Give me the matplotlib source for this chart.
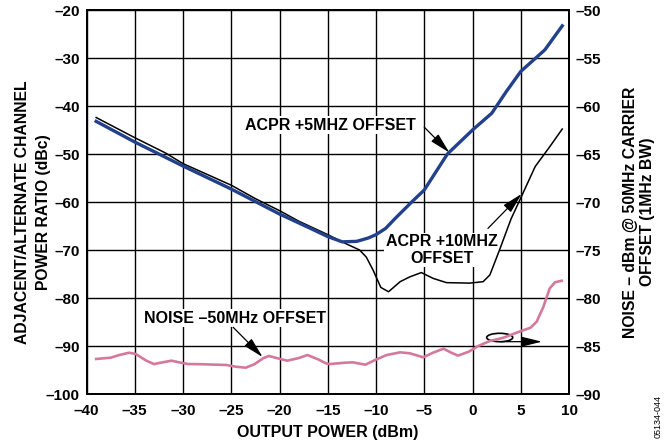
import numpy as np
import matplotlib
matplotlib.use("Agg")
import matplotlib.pyplot as plt
from matplotlib.patches import Ellipse

plt.rcParams['font.family'] = ['Liberation Sans', 'DejaVu Sans']
plt.rcParams['font.weight'] = 'bold'

# ACPR +5MHz offset (left axis, dBc)
acpr5_x = [-39, -35, -30, -25, -20, -17, -15, -13.5, -12, -10.8, -10, -9, -8, -6.3, -5,
           -2.6, 0, 2, 3.5, 5, 7.5, 9.3]
acpr5_y = [-43.2, -47.5, -52.5, -57.3, -62.5, -65.3, -67.2, -68.3, -68.2, -67.5, -66.8,
           -65.5, -63.4, -60, -57.5, -50, -45, -41.5, -37, -32.8, -28.3, -23.3]

# ACPR +10MHz offset (left axis, dBc)
acpr10_x = [-39, -35, -31.8, -30, -25, -22.5, -20, -18, -15, -13, -11.7, -11, -10.3, -9.5,
            -8.7, -7.5, -6.5, -5.3, -4.1, -2.7, -0.3, 1.1, 1.8, 2.8, 4, 4.9, 6.5, 8, 9.3]
acpr10_y = [-42.4, -46.6, -49.8, -52, -56.5, -59.3, -61.8, -64, -66.8, -68.8, -70, -71.5,
            -74.2, -77.8, -78.7, -76.6, -75.6, -74.7, -75.9, -76.8, -76.9, -76.6, -75.2,
            -70, -63.5, -59.6, -52.6, -48.5, -44.8]

# noise at -50MHz offset (right axis, dBm)
noise_x = [-39, -37.5, -36.6, -35.6, -34.9, -33.8, -33, -32.1, -31.2, -30.4, -29.5, -28,
           -25.5, -24.5, -23.5, -22.6, -21.7, -21.1, -20.2, -19.2, -18.1, -17.1, -16,
           -15.2, -14.8, -13.2, -12.4, -11.1, -10.1, -8.9, -7.5, -6.5, -5.1, -4.1, -3,
           -2.2, -1.5, -0.4, 0.6, 1.8, 3.2, 4.6, 6, 6.65, 7.35, 8, 8.55, 9.25]
noise_y = [-86.35, -86.22, -85.94, -85.7, -85.83, -86.53, -86.88, -86.7, -86.53, -86.7,
           -86.88, -86.9, -86.98, -87.16, -87.26, -86.9, -86.28, -86.04, -86.28, -86.53,
           -86.28, -85.94, -86.39, -86.8, -86.88, -86.74, -86.7, -86.95, -86.46, -85.94,
           -85.66, -85.76, -86.18, -85.7, -85.28, -85.7, -86.0, -85.6, -85.0, -84.48,
           -84.14, -83.6, -83.1, -82.47, -80.9, -79.0, -78.36, -78.2]

x_ticks = [-40, -35, -30, -25, -20, -15, -10, -5, 0, 5, 10]
left_ticks = [-100, -90, -80, -70, -60, -50, -40, -30, -20]
right_ticks = [-90, -85, -80, -75, -70, -65, -60, -55, -50]


def dash(v):
    return str(v).replace('-', '\u2013')


fig = plt.figure(figsize=(6.65, 4.46), dpi=100)
ax = fig.add_axes([86.5 / 665, 52 / 446, 482.5 / 665, 384 / 446])
ax2 = ax.twinx()

ax.plot(acpr10_x, acpr10_y, color='black', lw=1.1, zorder=3)
ax.plot(acpr5_x, acpr5_y, color='#22408c', lw=2.4, zorder=4, solid_joinstyle='round')
ax2.plot(noise_x, noise_y, color='#d4799c', lw=1.9, zorder=3, solid_joinstyle='round')

ax.set_xlim(-40, 10)
ax.set_ylim(-100, -20)
ax2.set_ylim(-90, -50)
ax.set_xticks(x_ticks)
ax.set_xticklabels([dash(v) for v in x_ticks])
ax.set_yticks(left_ticks)
ax.set_yticklabels([dash(v) for v in left_ticks])
ax2.set_yticks(right_ticks)
ax2.set_yticklabels([dash(v) for v in right_ticks])
ax.grid(True, color='black', lw=1.0)
ax.set_axisbelow(True)
for a in (ax, ax2):
    a.tick_params(length=0, labelsize=11)
    for s in a.spines.values():
        s.set_linewidth(1.3)
ax.tick_params(axis='y', pad=5)
ax.tick_params(axis='x', pad=7)
ax2.tick_params(axis='y', pad=5)

fig.text(33 / 665, 1 - 212 / 446, 'ADJACENT/ALTERNATE CHANNEL\nPOWER RATIO (dBc)',
         rotation=90, ha='center', va='center', fontsize=11.3, linespacing=1.45)
fig.text(639 / 665, 1 - 212 / 446, 'NOISE \u2013 dBm @ 50MHz CARRIER\nOFFSET (1MHz BW)',
         rotation=90, ha='center', va='center', fontsize=11.3, linespacing=1.2)
fig.text(328 / 665, 1 - 433 / 446, 'OUTPUT POWER (dBm)', ha='center', va='center',
         fontsize=11.5)
fig.text(658 / 665, 1 - 417 / 446, '05134-044', rotation=90, ha='center', va='center',
         fontsize=6.5, fontweight='normal')

# white boxes hide the grid behind labels but stay under the curves
box = dict(facecolor='white', edgecolor='none', pad=1)
arrow = dict(arrowstyle='-|>,head_length=0.9,head_width=0.22', color='black', lw=0.9,
             shrinkA=0, shrinkB=0, mutation_scale=14)
ax.text(-14.7, -44, 'ACPR +5MHZ OFFSET', ha='center', va='center', fontsize=11.5,
        bbox=box, zorder=2)
ax.annotate('', xy=(-2.4, -49.7), xytext=(-5.0, -44.4), arrowprops=arrow, zorder=5)
ax.text(-3.2, -70, 'ACPR +10MHZ\nOFFSET', ha='center', va='center', fontsize=11.5,
        bbox=box, zorder=2, linespacing=1.15)
ax.annotate('', xy=(5.1, -58.3), xytext=(1.6, -65.5), arrowprops=arrow, zorder=5)
ax.text(-24.65, -84.2, 'NOISE \u201350MHz OFFSET', ha='center', va='center',
        fontsize=11.5, bbox=box, zorder=2)
ax.annotate('', xy=(-21.75, -92.3), xytext=(-24.8, -86.1), arrowprops=arrow, zorder=5)
ax.add_patch(Ellipse((2.82, -88.23), 2.7, 1.75, fill=False, ec='black', lw=1.2, zorder=5))
ax.annotate('', xy=(7.2, -89.1), xytext=(2.85, -89.1), arrowprops=arrow, zorder=5)

fig.savefig('out.png', dpi=100)
